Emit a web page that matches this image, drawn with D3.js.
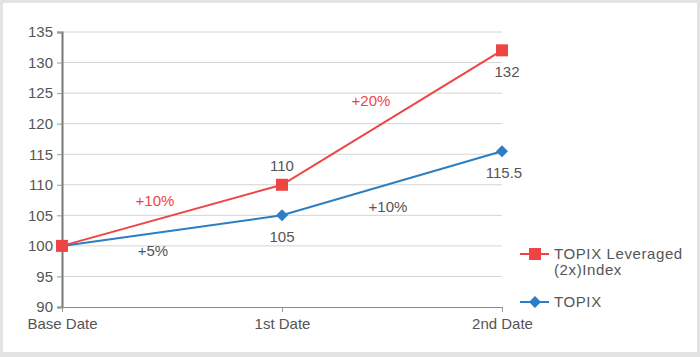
<!DOCTYPE html>
<html><head><meta charset="utf-8">
<script src="https://cdn.jsdelivr.net/npm/d3@7"></script>
<style>
html,body{margin:0;padding:0;background:#fff;}
svg{display:block;font-family:"Helvetica Neue",Helvetica,"Liberation Sans",Arial,sans-serif;}
</style></head>
<body><svg id="c" width="700" height="357"></svg>
<script>
const categories = ["Base Date", "1st Date", "2nd Date"];
const leveraged = [100, 110, 132];
const topix = [100, 105, 115.5];
const yTicks = [90, 95, 100, 105, 110, 115, 120, 125, 130, 135];
const leveragedName = ["TOPIX Leveraged", "(2x)Index"];
const topixName = "TOPIX";
const leveragedChanges = ["+10%", "+20%"];
const topixChanges = ["+5%", "+10%"];

const svg = d3.select("#c");
const red = "#ef4444", blue = "#2b7ec3", txt = "#555";
const fs = 15;

svg.append("rect").attr("x",0).attr("y",0).attr("width",700).attr("height",357).attr("fill","#e3e3e3");
svg.append("rect").attr("x",3).attr("y",3).attr("width",694).attr("height",349).attr("fill","#fff");

const x = d3.scalePoint().domain(categories).range([62, 502]);
const y = d3.scaleLinear().domain([90, 135]).range([307, 32]);

// grid
svg.append("g").selectAll("line").data(yTicks.filter(d=>d>90)).join("line")
  .attr("x1",62).attr("x2",502).attr("y1",d=>y(d)).attr("y2",d=>y(d))
  .attr("stroke","#d4d4d4").attr("stroke-width",1);

// y axis
const ya = svg.append("g").attr("transform","translate(62,0)")
  .call(d3.axisLeft(y).tickValues(yTicks).tickSize(5).tickPadding(4));
ya.select(".domain").attr("stroke","#777").attr("stroke-width",2);
ya.selectAll(".tick line").attr("stroke","#999");
ya.selectAll(".tick text").attr("fill",txt).attr("font-size",fs);

// x axis
const xa = svg.append("g").attr("transform","translate(0,307)")
  .call(d3.axisBottom(x).tickSize(5).tickSizeOuter(0).tickPadding(6));
xa.select(".domain").attr("stroke","#888").attr("stroke-width",1.2);
xa.selectAll(".tick line").attr("stroke","#999");
xa.selectAll(".tick text").attr("fill",txt).attr("font-size",fs);

const line = d3.line().x((d,i)=>x(categories[i])).y(d=>y(d));

svg.append("path").datum(topix).attr("d",line).attr("fill","none").attr("stroke",blue).attr("stroke-width",2);
svg.append("path").datum(leveraged).attr("d",line).attr("fill","none").attr("stroke",red).attr("stroke-width",2);

const diamond = d3.symbol().type(d3.symbolSquare).size(72);
svg.append("g").selectAll("path").data(topix).join("path")
  .attr("d",diamond)
  .attr("transform",(d,i)=>`translate(${x(categories[i])},${y(d)}) rotate(45)`)
  .attr("fill",blue);
svg.append("g").selectAll("rect").data(leveraged).join("rect")
  .attr("x",(d,i)=>x(categories[i])-6).attr("y",d=>y(d)-6)
  .attr("width",12).attr("height",12).attr("fill",red);

const lab = (t,xx,yy,c,anchor="middle") => svg.append("text").attr("x",xx).attr("y",yy)
  .attr("text-anchor",anchor).attr("fill",c).attr("font-size",fs).text(t);

lab(leveraged[1], x(categories[1]), y(leveraged[1]) - 14, txt);
lab(topix[1], x(categories[1]), y(topix[1]) + 27, txt);
lab(leveraged[2], x(categories[2]) + 5, y(leveraged[2]) + 27, txt);
lab(topix[2], x(categories[2]) + 2, y(topix[2]) + 27, txt);

lab(leveragedChanges[0], 155, 206, red);
lab(topixChanges[0], 153, 256, txt);
lab(leveragedChanges[1], 371, 106, red);
lab(topixChanges[1], 388, 212, txt);

// legend
const lg = svg.append("g");
lg.append("line").attr("x1",520).attr("x2",549).attr("y1",254).attr("y2",254).attr("stroke",red).attr("stroke-width",2);
lg.append("rect").attr("x",529).attr("y",248).attr("width",12).attr("height",12).attr("fill",red);
lg.append("text").attr("x",554).attr("y",259).attr("fill",txt).attr("font-size",fs).attr("letter-spacing",0.6).text(leveragedName[0]);
lg.append("text").attr("x",554).attr("y",275).attr("fill",txt).attr("font-size",fs).attr("letter-spacing",0.6).text(leveragedName[1]);
lg.append("line").attr("x1",520).attr("x2",549).attr("y1",302).attr("y2",302).attr("stroke",blue).attr("stroke-width",2);
lg.append("path").attr("d",diamond).attr("transform","translate(535,302) rotate(45)").attr("fill",blue);
lg.append("text").attr("x",554).attr("y",307).attr("fill",txt).attr("font-size",fs).attr("letter-spacing",0.6).text(topixName);
</script></body></html>
